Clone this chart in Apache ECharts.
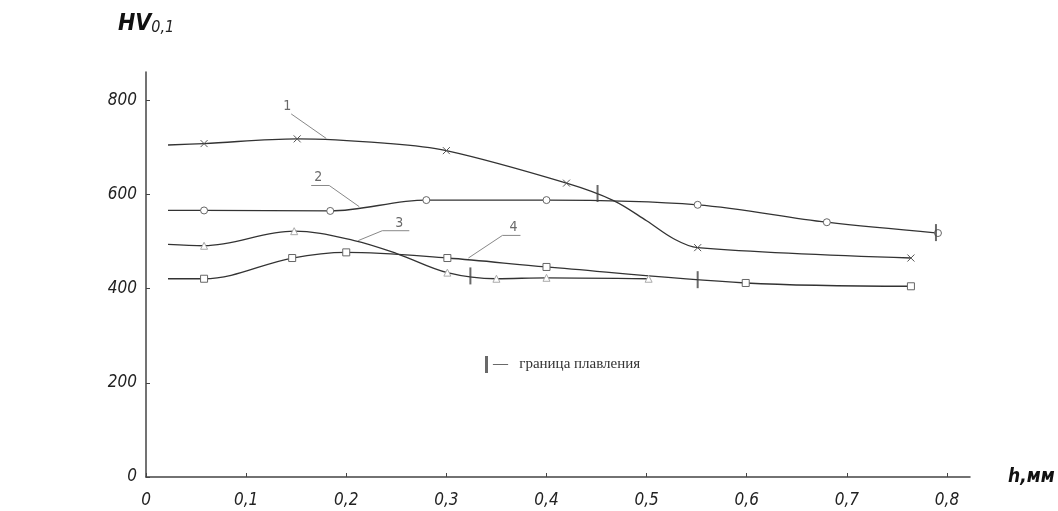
<!DOCTYPE html>
<html>
<head>
<meta charset="utf-8">
<script src="https://cdn.jsdelivr.net/npm/echarts@6/dist/echarts.min.js"></script>
<style>
  html, body { margin: 0; padding: 0; background: #fff; }
  #chart { width: 1058px; height: 511px; }
</style>
</head>
<body>
<div id="chart"></div>
<script>
// твёрдость HV0,1 по глубине h, мм — четыре кривые
const xTicks = [0, 0.1, 0.2, 0.3, 0.4, 0.5, 0.6, 0.7, 0.8]
const yTicks = [0, 200, 400, 600, 800]

const curve1X = [0.022, 0.058, 0.151, 0.238, 0.300, 0.420, 0.467, 0.500, 0.527, 0.551, 0.764]
const curve1Y = [705, 708, 718, 709, 693, 624, 587, 544, 506, 487, 465]
const curve1Mark = [0, 1, 1, 0, 1, 1, 0, 0, 0, 1, 1]

const curve2X = [0.022, 0.058, 0.184, 0.280, 0.400, 0.551, 0.680, 0.791]
const curve2Y = [566, 566, 565, 588, 588, 578, 541, 518]
const curve2Mark = [0, 1, 1, 1, 1, 1, 1, 1]

const curve3X = [0.022, 0.058, 0.148, 0.208, 0.251, 0.301, 0.350, 0.400, 0.502]
const curve3Y = [494, 491, 522, 502, 474, 434, 421, 423, 421]
const curve3Mark = [0, 1, 1, 0, 0, 1, 1, 1, 1]

const curve4X = [0.022, 0.058, 0.146, 0.200, 0.301, 0.400, 0.599, 0.764]
const curve4Y = [421, 421, 465, 477, 465, 446, 412, 405]
const curve4Mark = [0, 1, 1, 1, 1, 1, 1, 1]

// граница плавления (вертикальные штрихи на кривых)
const boundaryX = [0.451, 0.789, 0.324, 0.551]
const boundaryY = [602, 519, 427, 419]

// номера кривых и выноски
const curveNames = ['1', '2', '3', '4']
const labelX = [0.141, 0.172, 0.253, 0.367]
const labelY = [788, 636, 538, 530]
const leader1 = [[0.145, 771], [0.180, 719]]
const leader2 = [[0.165, 619], [0.183, 619], [0.213, 574]]
const leader3 = [[0.263, 523], [0.236, 523], [0.212, 502]]
const leader4 = [[0.374, 513], [0.356, 513], [0.322, 465]]

const techFont = 'DejaVu Sans Condensed'

function toPoints(xs, ys, marks) {
  return xs.map((x, i) => marks[i] ? [x, ys[i]] : { value: [x, ys[i]], symbol: 'none' })
}

function curve(name, xs, ys, marks, symbol, markColor) {
  return {
    name: name,
    type: 'line',
    smooth: 0.35,
    data: toPoints(xs, ys, marks),
    symbol: symbol,
    symbolSize: 7,
    showAllSymbol: true,
    lineStyle: { color: '#333', width: 1.3 },
    itemStyle: { color: '#fff', borderColor: markColor, borderWidth: 1 },
    z: 3,
    silent: true
  }
}

function leader(points) {
  return {
    type: 'line',
    data: points,
    symbol: 'none',
    lineStyle: { color: '#888', width: 1 },
    silent: true,
    z: 2
  }
}

function commaLabel(v) {
  return v === 0 ? '0' : v.toFixed(1).replace('.', ',')
}

const chart = echarts.init(document.getElementById('chart'))

const option = {
  animation: false,
  backgroundColor: '#fff',
  grid: { left: 146, right: 88, top: 72, bottom: 34, outerBoundsMode: 'none' },
  legend: {
    data: ['граница'],
    left: 480,
    top: 351,
    itemWidth: 3,
    itemHeight: 17,
    formatter: () => '—   граница плавления',
    textStyle: { fontFamily: 'Liberation Serif', fontSize: 15, color: '#333' }
  },
  xAxis: {
    type: 'value',
    min: 0,
    max: 0.823,
    interval: 0.1,
    name: 'h,мм',
    nameLocation: 'end',
    nameGap: 38,
    nameTextStyle: {
      fontFamily: techFont, fontSize: 19, fontWeight: 'bold', fontStyle: 'italic',
      color: '#111', padding: [46, 0, 0, 0]
    },
    axisLine: { lineStyle: { color: '#444', width: 1.5 } },
    axisTick: { inside: true, length: 4, customValues: xTicks, lineStyle: { color: '#444' } },
    axisLabel: {
      customValues: xTicks,
      margin: 15,
      formatter: commaLabel,
      fontFamily: techFont, fontSize: 17, fontStyle: 'italic', color: '#222'
    },
    splitLine: { show: false }
  },
  yAxis: {
    type: 'value',
    min: 0,
    max: 860,
    interval: 200,
    name: '{a|HV}{b|0,1}',
    nameLocation: 'end',
    nameGap: 36,
    nameTextStyle: {
      rich: {
        a: { fontFamily: techFont, fontSize: 23, fontWeight: 'bold', fontStyle: 'italic', color: '#111' },
        b: { fontFamily: techFont, fontSize: 16, fontStyle: 'italic', color: '#222', padding: [6, 0, 0, 0] }
      }
    },
    axisLine: { show: true, lineStyle: { color: '#444', width: 1.5 } },
    axisTick: { show: true, inside: true, length: 4, customValues: yTicks, lineStyle: { color: '#444' } },
    axisLabel: {
      customValues: yTicks,
      margin: 9,
      fontFamily: techFont, fontSize: 17, fontStyle: 'italic', color: '#222'
    },
    splitLine: { show: false }
  },
  series: [
    curve('1', curve1X, curve1Y, curve1Mark, 'path://M0,0L10,10M10,0L0,10', '#555'),
    curve('2', curve2X, curve2Y, curve2Mark, 'circle', '#666'),
    curve('3', curve3X, curve3Y, curve3Mark, 'triangle', '#aaa'),
    curve('4', curve4X, curve4Y, curve4Mark, 'rect', '#666'),
    {
      name: 'граница',
      type: 'scatter',
      data: boundaryX.map((x, i) => [x, boundaryY[i]]),
      symbol: 'rect',
      symbolSize: [2, 17],
      itemStyle: { color: '#444' },
      z: 4,
      silent: true
    },
    leader(leader1),
    leader(leader2),
    leader(leader3),
    leader(leader4),
    {
      type: 'scatter',
      data: labelX.map((x, i) => [x, labelY[i], curveNames[i]]),
      symbolSize: 0,
      label: {
        show: true,
        position: 'inside',
        formatter: p => p.data[2],
        fontFamily: techFont, fontSize: 14, color: '#444'
      },
      silent: true
    }
  ]
}

chart.setOption(option)
</script>
</body>
</html>
